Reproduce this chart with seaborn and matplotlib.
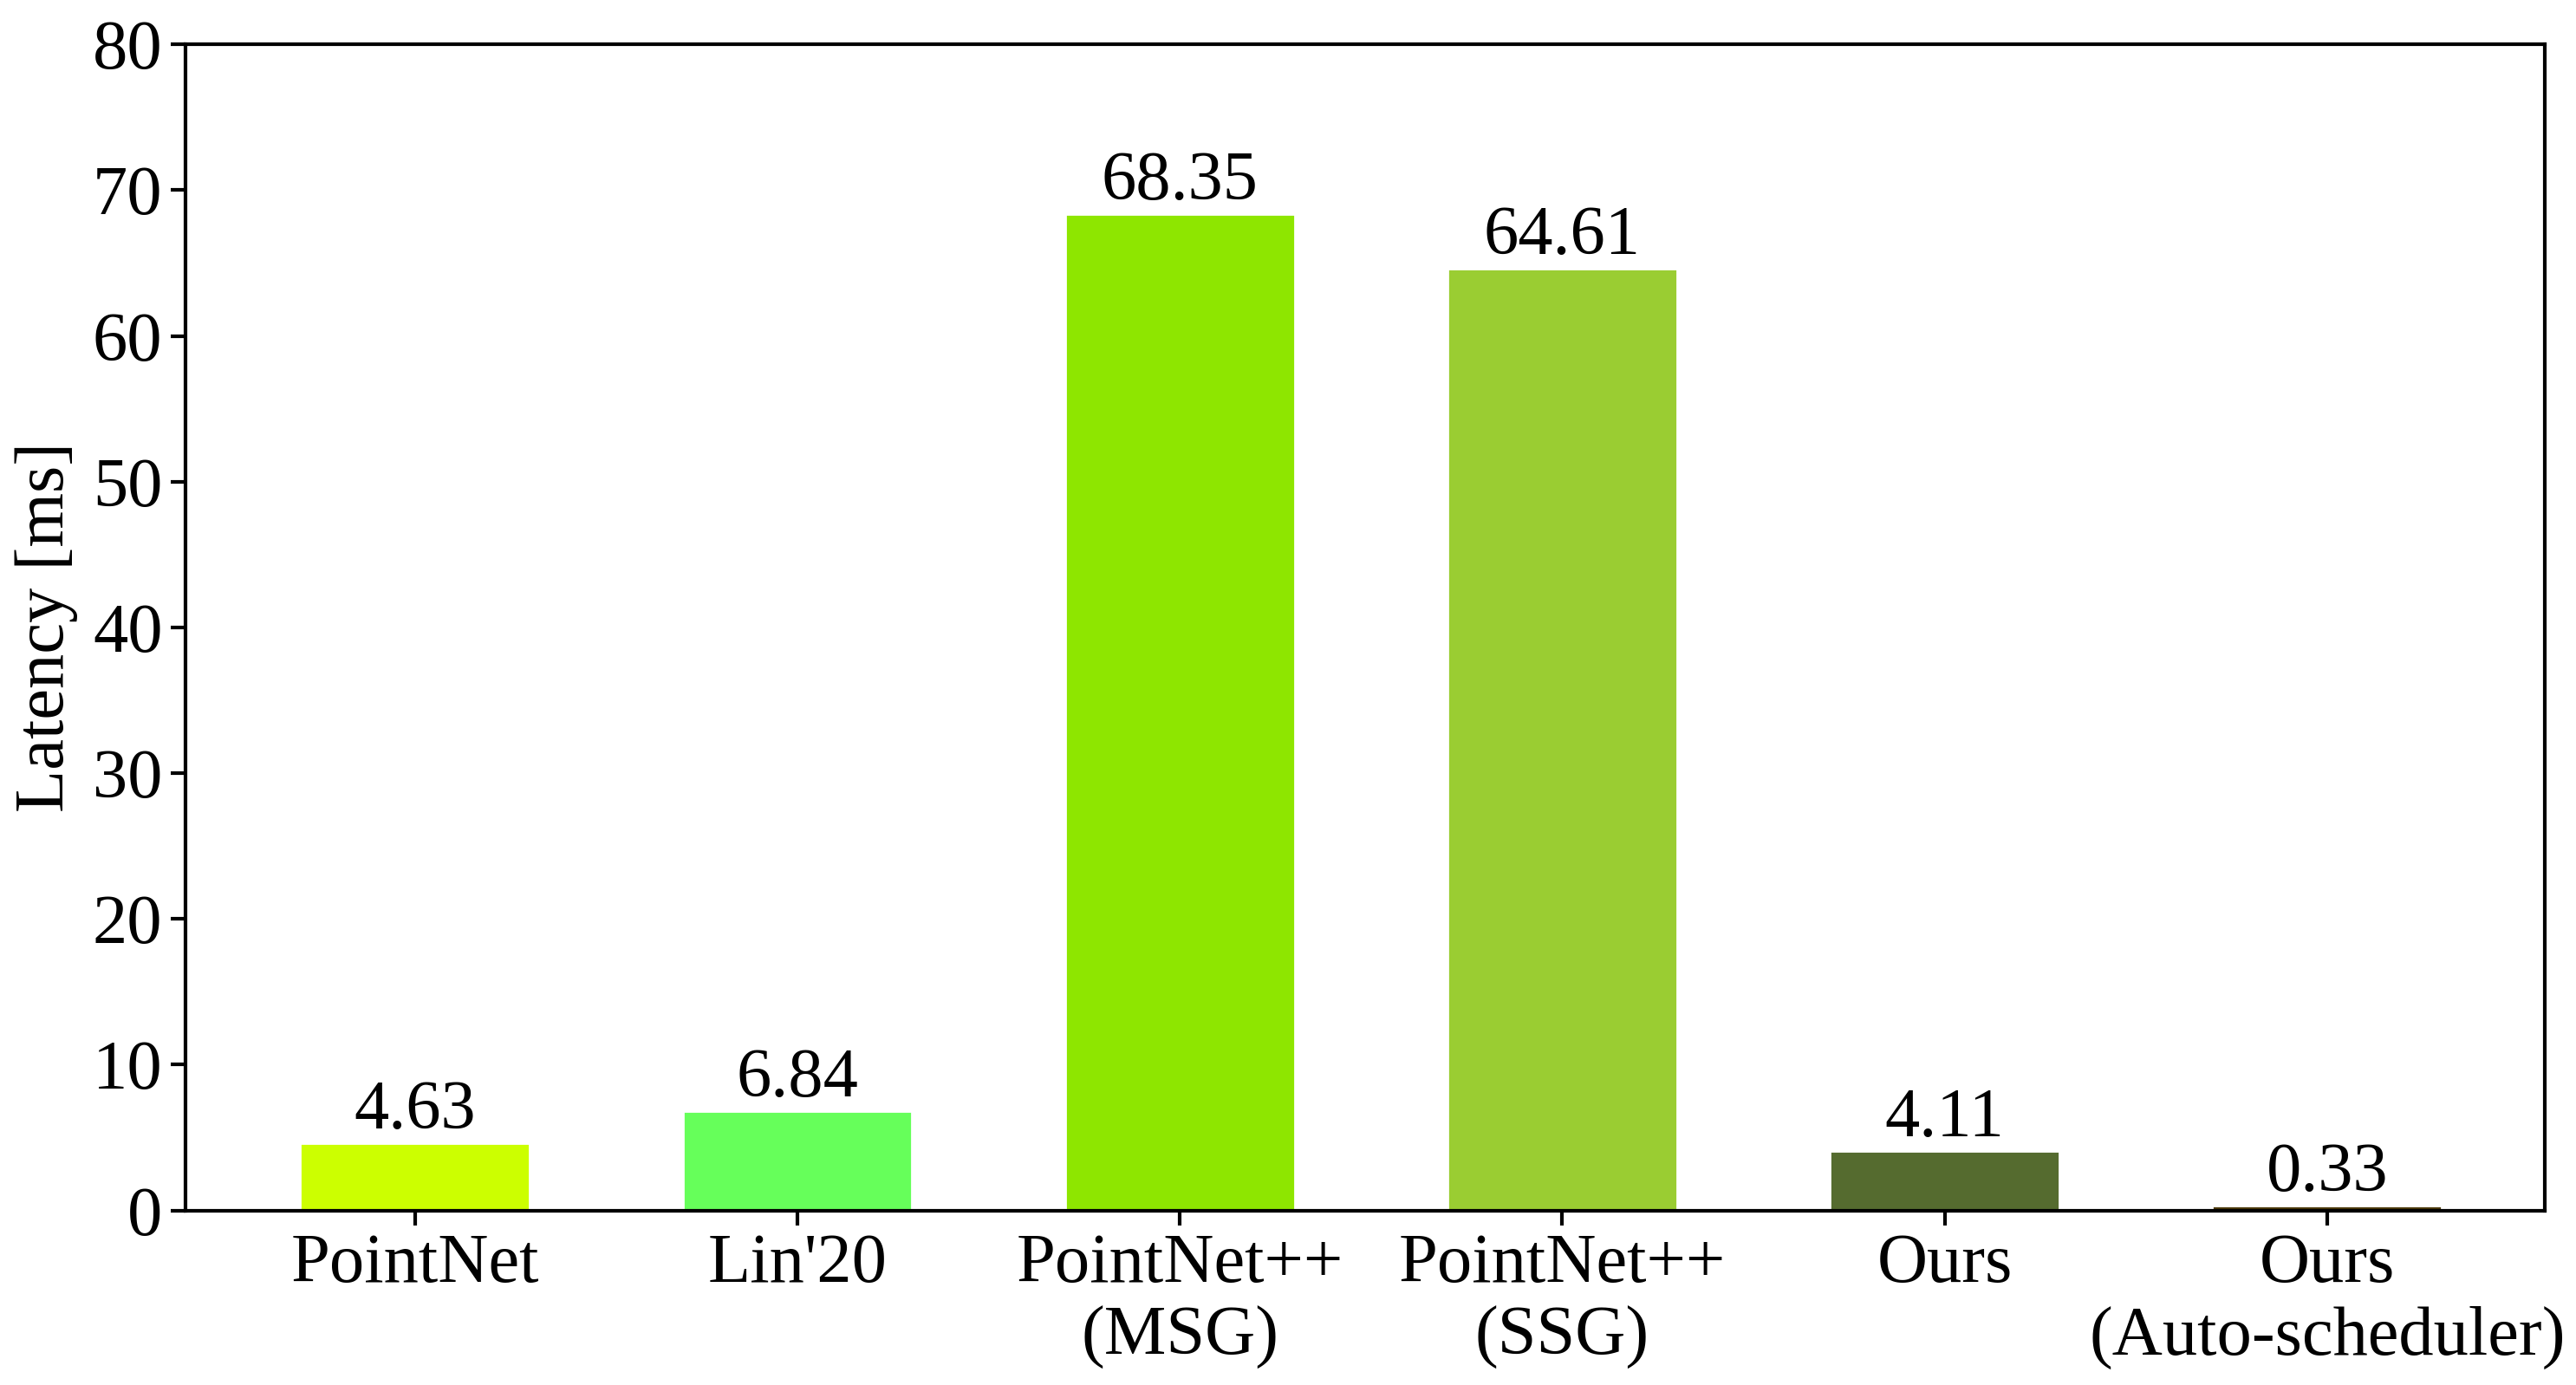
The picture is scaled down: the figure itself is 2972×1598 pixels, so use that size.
import pandas as pd
import matplotlib
matplotlib.use("Agg")
import matplotlib.pyplot as plt
import seaborn as sns

sns.set_style("ticks")
plt.rcParams['font.family'] = ['Liberation Serif', 'DejaVu Serif']
plt.rcParams['text.color'] = 'black'
plt.rcParams['axes.labelcolor'] = 'black'
plt.rcParams['xtick.color'] = 'black'
plt.rcParams['ytick.color'] = 'black'

# data
methods = ["PointNet", "Lin'20", "PointNet++\n(MSG)", "PointNet++\n(SSG)", "Ours", "Ours\n(Auto-scheduler)"]
latency = [4.63, 6.84, 68.35, 64.61, 4.11, 0.33]
colors = ["#CCFF00", "#66FF5A", "#8EE600", "#9ACD32", "#556B2F", "#4D3A0B"]

df = pd.DataFrame({"method": methods, "latency": latency})

fig, ax = plt.subplots(figsize=(14.86, 7.99), dpi=200)
sns.barplot(data=df, x="method", y="latency", hue="method", palette=colors,
            width=0.6, saturation=1, legend=False, ax=ax)

for c in ax.containers:
    ax.bar_label(c, fmt="%.2f", fontsize=29, padding=0, color="black")

ax.set_ylim(0, 80)
ax.set_yticks(range(0, 81, 10))
ax.set_xlim(-0.6, 5.57)
ax.set_xlabel("")
ax.set_ylabel("Latency [ms]", fontsize=29, labelpad=6)
ax.tick_params(axis="both", labelsize=29, width=1.5, length=6, color="black", labelcolor="black")
for s in ax.spines.values():
    s.set_visible(True)
    s.set_linewidth(1.5)
    s.set_color("black")

fig.subplots_adjust(left=0.072, right=0.988, top=0.968, bottom=0.126)
fig.savefig("out.png", dpi=200)
